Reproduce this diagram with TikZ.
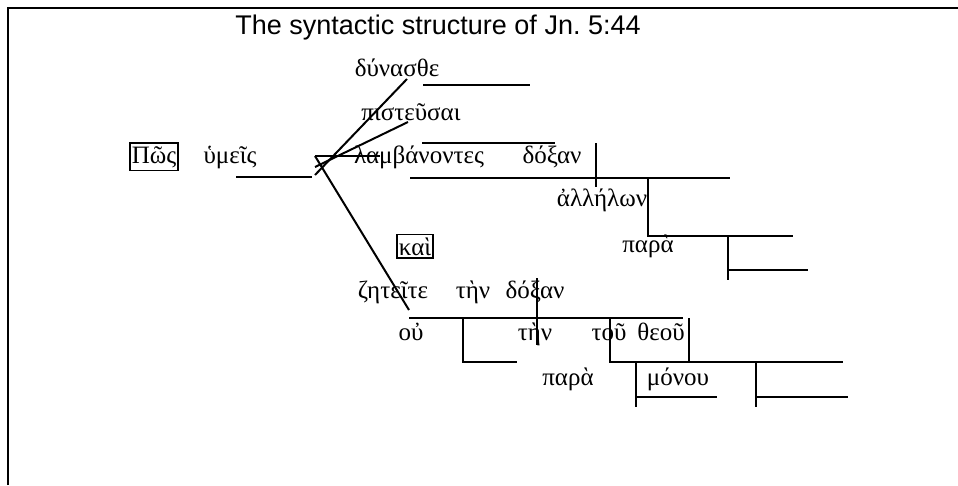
\documentclass[tikz,border=0pt]{standalone}
\usepackage{fontspec}
\setmainfont{Liberation Serif}
\newfontfamily\titlefont{Liberation Sans}
\newfontfamily\grfont{Liberation Serif}
\tikzset{
    ttl/.style={
        font=\titlefont\fontsize{27}{30}\selectfont,
        anchor=base,
        inner sep=0pt
    },
    wrd/.style={
        font=\grfont\fontsize{25}{28}\selectfont,
        anchor=base,
        inner sep=0pt
    },
    wrdbox/.style={
        wrd,
        draw,
        line width=1.6pt,
        inner xsep=1.8pt,
        inner ysep=3pt
    },
    ln/.style={
        line width=2pt
    },
    frm/.style={
        line width=2.8pt
    }
}
\begin{document}
\begin{tikzpicture}[x=1pt,y=-1pt]
\useasboundingbox (0,0) rectangle (958,485);
\draw[frm] (8,485) -- (8,8) -- (958,8);
\node[ttl] (title) at (438,34) {The syntactic structure of Jn.\ 5:44};
% words
\node[wrdbox] (pos) at (154,163) {Πῶς};
\node[wrd] (hymeis) at (230,163) {ὑμεῖς};
\node[wrd] (dynasthe) at (397,76) {δύνασθε};
\node[wrd] (pisteusai) at (411,120) {πιστεῦσαι};
\node[wrd] (lambanontes) at (419,163) {λαμβάνοντες};
\node[wrd] (doxana) at (552,163) {δόξαν};
\node[wrd] (allelon) at (602,206) {ἀλλήλων};
\node[wrd] (paraa) at (648,252) {παρὰ};
\node[wrdbox] (kai) at (415,255) {καὶ};
\node[wrd] (zeteite) at (393,298) {ζητεῖτε};
\node[wrd] (tena) at (473,298) {τὴν};
\node[wrd] (doxanb) at (535,298) {δόξαν};
\node[wrd] (ou) at (411,340) {οὐ};
\node[wrd] (tenb) at (535,340) {τὴν};
\node[wrd] (tou) at (609,340) {τοῦ};
\node[wrd] (theou) at (661,340) {θεοῦ};
\node[wrd] (parab) at (568,385) {παρὰ};
\node[wrd] (monou) at (678,385) {μόνου};
% first clause
\draw[ln] (236,177) -- (312,177);
\coordinate (hub) at (315,156);
\draw[ln] (hub) -- (380,156);
\draw[ln] (hub) -- (409,310);
\draw[ln] (315,175) -- (407,79);
\draw[ln] (315,167) -- (408,122);
\draw[ln] (423,85) -- (530,85);
\draw[ln] (422,143) -- (555,143);
\draw[ln] (596,143) -- (596,187);
\draw[ln] (410,178) -- (730,178);
\draw[ln] (648,178) -- (648,236) -- (793,236);
\draw[ln] (728,236) -- (728,280);
\draw[ln] (728,270) -- (808,270);
% second clause
\draw[ln] (409,318) -- (683,318);
\draw[ln] (537,278) -- (537,345);
\draw[ln] (463,318) -- (463,362) -- (517,362);
\draw[ln] (610,317) -- (610,362) -- (843,362);
\draw[ln] (689,318) -- (689,362);
\draw[ln] (636,362) -- (636,407);
\draw[ln] (636,397) -- (717,397);
\draw[ln] (756,362) -- (756,407);
\draw[ln] (756,397) -- (848,397);
\end{tikzpicture}
\end{document}
